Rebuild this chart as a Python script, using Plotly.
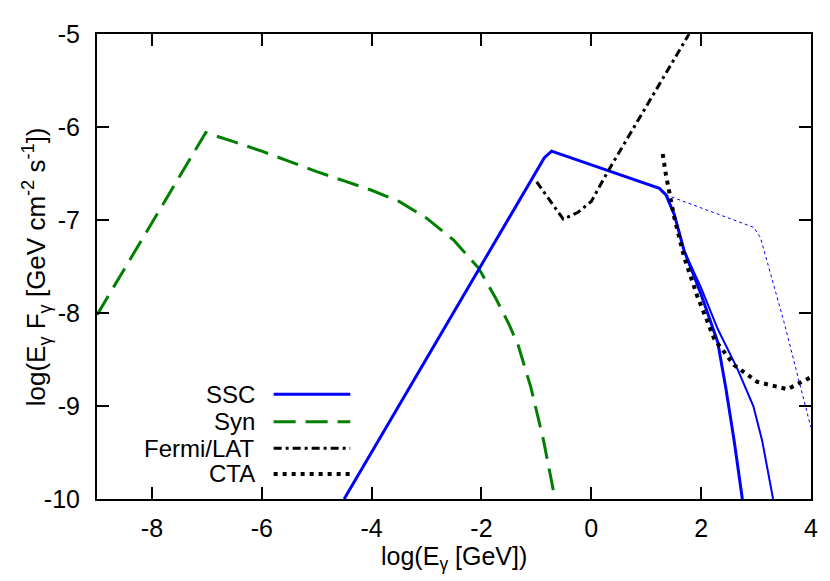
import plotly.graph_objects as go

# ---------------- data (log10 values) ----------------
syn_x = [-9.0, -7.02, -6.5, -6.0, -5.5, -5.0, -4.5, -4.0, -3.5, -3.0, -2.5, -2.05,
         -1.75, -1.5, -1.33, -1.1, -0.87, -0.66]
syn_y = [-8.02, -6.06, -6.16, -6.26, -6.37, -6.48, -6.58, -6.68, -6.80, -6.98, -7.22, -7.52,
         -7.83, -8.12, -8.35, -8.80, -9.37, -10.0]

ssc_x = [-4.50, -0.855, -0.723, 1.24, 1.36, 1.51, 1.69, 2.0, 2.30, 2.45, 2.60, 2.75]
ssc_y = [-10.0, -6.33, -6.26, -6.66, -6.73, -6.94, -7.33, -7.80, -8.31, -8.81, -9.37, -10.0]

ssc2_x = [1.36, 1.51, 1.69, 2.0, 2.30, 2.66, 2.95, 3.11, 3.31]
ssc2_y = [-6.73, -6.94, -7.33, -7.73, -8.17, -8.60, -9.00, -9.37, -10.0]

ssc3_x = [1.36, 2.96, 3.08, 3.51, 3.98, 4.0]
ssc3_y = [-6.73, -7.08, -7.19, -8.10, -9.19, -9.23]

fermi_x = [-0.995, -0.75, -0.511, -0.25, 0.0, 0.30, 1.78]
fermi_y = [-6.59, -6.79, -6.99, -6.92, -6.80, -6.48, -5.0]

cta_x = [1.30, 1.36, 1.51, 1.69, 1.93, 2.24, 2.60, 3.02, 3.57, 3.98, 4.0]
cta_y = [-6.29, -6.52, -6.97, -7.40, -7.82, -8.28, -8.56, -8.74, -8.82, -8.70, -8.69]

x_ticks = [-8, -6, -4, -2, 0, 2, 4]
y_ticks = [-10, -9, -8, -7, -6, -5]
legend_names = ["SSC", "Syn", "Fermi/LAT", "CTA"]

# ---------------- styles ----------------
BLUE = "#0000ff"
GREEN = "#008000"
FONT = "Liberation Sans, Arial, sans-serif"

fig = go.Figure()
fig.add_trace(go.Scatter(x=syn_x, y=syn_y, mode="lines", name="Syn",
                         line=dict(color=GREEN, width=3, dash="22px,10px")))
fig.add_trace(go.Scatter(x=ssc3_x, y=ssc3_y, mode="lines", name="SSC (dotted)",
                         line=dict(color=BLUE, width=1, dash="3px,3px")))
fig.add_trace(go.Scatter(x=ssc2_x, y=ssc2_y, mode="lines", name="SSC (thin)",
                         line=dict(color=BLUE, width=2)))
fig.add_trace(go.Scatter(x=ssc_x, y=ssc_y, mode="lines", name="SSC",
                         line=dict(color=BLUE, width=3)))
fig.add_trace(go.Scatter(x=fermi_x, y=fermi_y, mode="lines", name="Fermi/LAT",
                         line=dict(color="black", width=3, dash="8px,4px,3px,4px")))
fig.add_trace(go.Scatter(x=cta_x, y=cta_y, mode="lines", name="CTA",
                         line=dict(color="black", width=4, dash="4px,5px")))
fig.update_traces(showlegend=False, hoverinfo="skip")

# ---------------- manual gnuplot-style legend ----------------
leg_styles = [
    dict(color=BLUE, width=3, dash="solid"),
    dict(color=GREEN, width=3, dash="22px,10px"),
    dict(color="black", width=3, dash="8px,4px,3px,4px"),
    dict(color="black", width=4, dash="4px,5px"),
]
leg_y = [0.2252, 0.166, 0.1089, 0.0539]
annotations = []
shapes = []
for name, st, yy in zip(legend_names, leg_styles, leg_y):
    annotations.append(dict(text=name, xref="paper", yref="paper", x=0.2237, y=yy,
                            xanchor="right", yanchor="middle", showarrow=False,
                            font=dict(family=FONT, size=24, color="black")))
    shapes.append(dict(type="line", xref="paper", yref="paper", x0=0.2474, x1=0.3547,
                       y0=yy, y1=yy, line=st))

# axis titles
annotations.append(dict(text="log(E<sub>γ</sub> [GeV])", xref="paper", yref="paper",
                        x=0.5, y=-0.127, xanchor="center", yanchor="middle", showarrow=False,
                        font=dict(family=FONT, size=25, color="black")))
annotations.append(dict(text="log(E<sub>γ</sub> F<sub>γ</sub> [GeV cm<sup>-2</sup> s<sup>-1</sup>])",
                        xref="paper", yref="paper", x=-0.0857, y=0.5, textangle=-90,
                        xanchor="center", yanchor="middle", showarrow=False,
                        font=dict(family=FONT, size=26, color="black")))

axis_common = dict(showgrid=False, zeroline=False, showline=True, linecolor="black",
                   linewidth=2, ticks="inside", ticklen=12, tickwidth=1.5,
                   tickcolor="black", mirror="allticks",
                   tickfont=dict(family=FONT, size=25, color="black"))

# the page body has an 8 px margin, so the figure is 8 px smaller on each side
fig.update_layout(
    width=822, height=573,
    margin=dict(l=88.5, r=16, t=18.5, b=82, pad=0),
    paper_bgcolor="white", plot_bgcolor="white",
    xaxis=dict(range=[-9, 4], tickvals=x_ticks, ticktext=[str(v) for v in x_ticks],
               ticklabelstandoff=6, **axis_common),
    yaxis=dict(range=[-10, -5], tickvals=y_ticks, ticktext=[str(v) for v in y_ticks],
               ticklabelstandoff=10, **axis_common),
    annotations=annotations,
    shapes=shapes,
    showlegend=False,
)

fig.write_html("out.html")
